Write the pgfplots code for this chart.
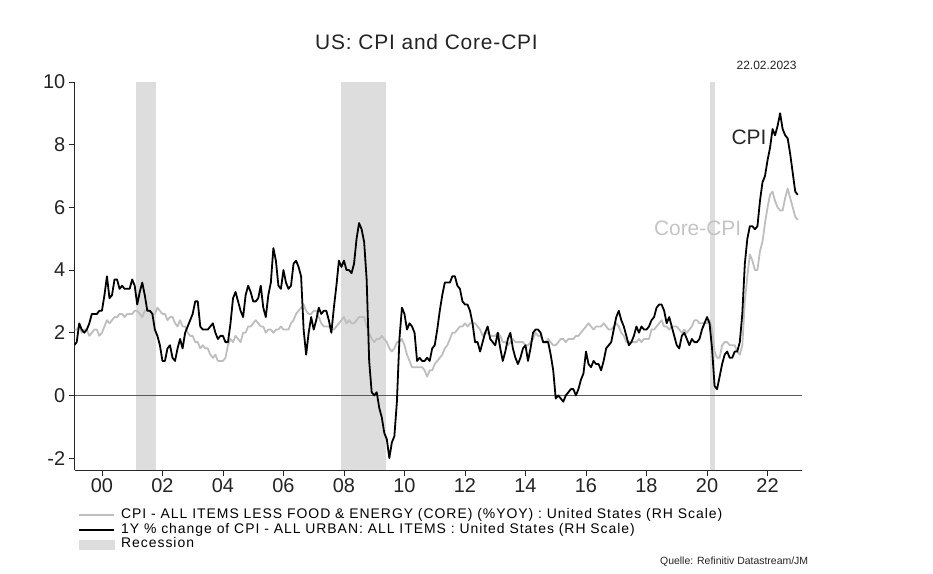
\documentclass[border=0pt]{standalone}
\usepackage{pgfplots}
\pgfplotsset{compat=1.18}
\usepackage{pgfplotstable}
\usepackage{fontspec}
\setmainfont{Liberation Sans}
\newfontfamily\legendfont[LetterSpace=7]{Liberation Sans}
\newfontfamily\titlefont[LetterSpace=4]{Liberation Sans}
\definecolor{coregray}{RGB}{190,190,190}
\definecolor{recgray}{RGB}{221,221,221}
\definecolor{labgray}{RGB}{196,196,196}
\definecolor{cpidark}{RGB}{40,40,40}
\definecolor{txt}{RGB}{35,35,35}

\pgfplotstableread{
yr mo cpi core
1999 2 1.6 2.1
1999 3 1.7 2.1
1999 4 2.3 2.2
1999 5 2.1 2.0
1999 6 2.0 2.1
1999 7 2.1 2.1
1999 8 2.3 1.9
1999 9 2.6 2.0
1999 10 2.6 2.1
1999 11 2.6 2.1
1999 12 2.7 1.9
2000 1 2.7 2.0
2000 2 3.2 2.2
2000 3 3.8 2.4
2000 4 3.1 2.3
2000 5 3.2 2.4
2000 6 3.7 2.5
2000 7 3.7 2.5
2000 8 3.4 2.6
2000 9 3.5 2.6
2000 10 3.4 2.5
2000 11 3.4 2.6
2000 12 3.4 2.6
2001 1 3.7 2.6
2001 2 3.5 2.7
2001 3 2.9 2.7
2001 4 3.3 2.6
2001 5 3.6 2.5
2001 6 3.2 2.7
2001 7 2.7 2.7
2001 8 2.7 2.7
2001 9 2.6 2.6
2001 10 2.1 2.6
2001 11 1.9 2.8
2001 12 1.6 2.7
2002 1 1.1 2.6
2002 2 1.1 2.6
2002 3 1.5 2.4
2002 4 1.6 2.5
2002 5 1.2 2.5
2002 6 1.1 2.3
2002 7 1.5 2.2
2002 8 1.8 2.4
2002 9 1.5 2.2
2002 10 2.0 2.2
2002 11 2.2 2.0
2002 12 2.4 1.9
2003 1 2.6 1.9
2003 2 3.0 1.7
2003 3 3.0 1.7
2003 4 2.2 1.5
2003 5 2.1 1.6
2003 6 2.1 1.5
2003 7 2.1 1.5
2003 8 2.2 1.3
2003 9 2.3 1.2
2003 10 2.0 1.3
2003 11 1.8 1.1
2003 12 1.9 1.1
2004 1 1.9 1.1
2004 2 1.7 1.2
2004 3 1.7 1.6
2004 4 2.3 1.8
2004 5 3.1 1.7
2004 6 3.3 1.9
2004 7 3.0 1.8
2004 8 2.7 1.7
2004 9 2.5 2.0
2004 10 3.2 2.0
2004 11 3.5 2.2
2004 12 3.3 2.2
2005 1 3.0 2.3
2005 2 3.0 2.4
2005 3 3.1 2.3
2005 4 3.5 2.2
2005 5 2.8 2.2
2005 6 2.5 2.0
2005 7 3.2 2.1
2005 8 3.6 2.1
2005 9 4.7 2.0
2005 10 4.3 2.1
2005 11 3.5 2.1
2005 12 3.4 2.2
2006 1 4.0 2.1
2006 2 3.6 2.1
2006 3 3.4 2.1
2006 4 3.5 2.3
2006 5 4.2 2.4
2006 6 4.3 2.6
2006 7 4.1 2.7
2006 8 3.8 2.8
2006 9 2.1 2.9
2006 10 1.3 2.7
2006 11 2.0 2.6
2006 12 2.5 2.6
2007 1 2.1 2.7
2007 2 2.4 2.7
2007 3 2.8 2.5
2007 4 2.6 2.3
2007 5 2.7 2.2
2007 6 2.7 2.2
2007 7 2.4 2.2
2007 8 2.0 2.1
2007 9 2.8 2.1
2007 10 3.5 2.2
2007 11 4.3 2.3
2007 12 4.1 2.4
2008 1 4.3 2.5
2008 2 4.0 2.3
2008 3 4.0 2.4
2008 4 3.9 2.3
2008 5 4.2 2.3
2008 6 5.0 2.4
2008 7 5.5 2.5
2008 8 5.3 2.5
2008 9 4.9 2.5
2008 10 3.7 2.2
2008 11 1.1 2.0
2008 12 0.1 1.8
2009 1 0.0 1.7
2009 2 0.1 1.8
2009 3 -0.4 1.8
2009 4 -0.7 1.9
2009 5 -1.2 1.8
2009 6 -1.4 1.7
2009 7 -2.0 1.5
2009 8 -1.5 1.4
2009 9 -1.3 1.5
2009 10 -0.2 1.7
2009 11 1.8 1.7
2009 12 2.8 1.8
2010 1 2.6 1.6
2010 2 2.1 1.3
2010 3 2.3 1.1
2010 4 2.2 0.9
2010 5 2.0 0.9
2010 6 1.1 0.9
2010 7 1.2 0.9
2010 8 1.1 0.9
2010 9 1.1 0.8
2010 10 1.2 0.6
2010 11 1.1 0.8
2010 12 1.5 0.8
2011 1 1.6 1.0
2011 2 2.1 1.1
2011 3 2.7 1.2
2011 4 3.2 1.3
2011 5 3.6 1.5
2011 6 3.6 1.6
2011 7 3.6 1.8
2011 8 3.8 2.0
2011 9 3.8 2.0
2011 10 3.5 2.1
2011 11 3.4 2.2
2011 12 3.0 2.2
2012 1 2.9 2.3
2012 2 2.9 2.2
2012 3 2.7 2.3
2012 4 2.3 2.3
2012 5 1.7 2.3
2012 6 1.7 2.2
2012 7 1.4 2.1
2012 8 1.7 1.9
2012 9 2.0 2.0
2012 10 2.2 2.0
2012 11 1.8 1.9
2012 12 1.7 1.9
2013 1 1.6 1.9
2013 2 2.0 2.0
2013 3 1.5 1.9
2013 4 1.1 1.7
2013 5 1.4 1.7
2013 6 1.8 1.6
2013 7 2.0 1.7
2013 8 1.5 1.8
2013 9 1.2 1.7
2013 10 1.0 1.7
2013 11 1.2 1.7
2013 12 1.5 1.7
2014 1 1.6 1.6
2014 2 1.1 1.6
2014 3 1.5 1.7
2014 4 2.0 1.8
2014 5 2.1 2.0
2014 6 2.1 1.9
2014 7 2.0 1.9
2014 8 1.7 1.7
2014 9 1.7 1.7
2014 10 1.7 1.8
2014 11 1.3 1.7
2014 12 0.8 1.6
2015 1 -0.1 1.6
2015 2 0.0 1.7
2015 3 -0.1 1.8
2015 4 -0.2 1.8
2015 5 0.0 1.7
2015 6 0.1 1.8
2015 7 0.2 1.8
2015 8 0.2 1.8
2015 9 0.0 1.9
2015 10 0.2 1.9
2015 11 0.5 2.0
2015 12 0.7 2.1
2016 1 1.4 2.2
2016 2 1.0 2.3
2016 3 0.9 2.2
2016 4 1.1 2.1
2016 5 1.0 2.2
2016 6 1.0 2.2
2016 7 0.8 2.2
2016 8 1.1 2.3
2016 9 1.5 2.2
2016 10 1.6 2.1
2016 11 1.7 2.1
2016 12 2.1 2.2
2017 1 2.5 2.3
2017 2 2.7 2.2
2017 3 2.4 2.0
2017 4 2.2 1.9
2017 5 1.9 1.7
2017 6 1.6 1.7
2017 7 1.7 1.7
2017 8 1.9 1.7
2017 9 2.2 1.7
2017 10 2.0 1.8
2017 11 2.2 1.7
2017 12 2.1 1.8
2018 1 2.1 1.8
2018 2 2.2 1.8
2018 3 2.4 2.1
2018 4 2.5 2.1
2018 5 2.8 2.2
2018 6 2.9 2.3
2018 7 2.9 2.4
2018 8 2.7 2.2
2018 9 2.3 2.2
2018 10 2.5 2.1
2018 11 2.2 2.2
2018 12 1.9 2.2
2019 1 1.6 2.2
2019 2 1.5 2.1
2019 3 1.9 2.0
2019 4 2.0 2.1
2019 5 1.8 2.0
2019 6 1.6 2.1
2019 7 1.8 2.2
2019 8 1.7 2.4
2019 9 1.7 2.4
2019 10 1.8 2.3
2019 11 2.1 2.3
2019 12 2.3 2.3
2020 1 2.5 2.3
2020 2 2.3 2.4
2020 3 1.5 2.1
2020 4 0.3 1.4
2020 5 0.2 1.2
2020 6 0.6 1.2
2020 7 1.0 1.6
2020 8 1.3 1.7
2020 9 1.4 1.7
2020 10 1.2 1.6
2020 11 1.2 1.6
2020 12 1.4 1.6
2021 1 1.4 1.4
2021 2 1.7 1.3
2021 3 2.6 1.6
2021 4 4.2 3.0
2021 5 5.0 3.8
2021 6 5.4 4.5
2021 7 5.4 4.3
2021 8 5.3 4.0
2021 9 5.4 4.0
2021 10 6.2 4.6
2021 11 6.8 4.9
2021 12 7.0 5.5
2022 1 7.5 6.0
2022 2 7.9 6.4
2022 3 8.5 6.5
2022 4 8.3 6.2
2022 5 8.6 6.0
2022 6 9.0 5.9
2022 7 8.5 5.9
2022 8 8.3 6.3
2022 9 8.2 6.6
2022 10 7.7 6.3
2022 11 7.1 6.0
2022 12 6.5 5.7
2023 1 6.4 5.6
}\cpidata

\begin{document}
\begin{tikzpicture}
\path[use as bounding box] (0bp,0bp) rectangle (933bp,574bp);
\node[font=\titlefont\fontsize{21}{21}\selectfont, text=txt] at (426.5bp,532bp) {US: CPI and Core-CPI};
\node[font=\fontsize{12}{12}\selectfont, text=txt, anchor=east] at (800bp,509bp) {22.02.2023};
\node[font=\fontsize{10.5}{10.5}\selectfont, text=txt, anchor=east] at (811.7bp,12.3bp) {Quelle: Refinitiv Datastream/JM};
\begin{axis}[
  at={(74.7bp,104bp)}, anchor=south west,
  width=727.3bp, height=388bp, scale only axis,
  xmin=1999.1, xmax=2023.14, ymin=-2.38, ymax=10,
  axis x line*=bottom, axis y line*=left,
  axis line style={-, black!85, line width=0.8bp},
  xtick={2000,2002,...,2022},
  xticklabels={00,02,04,06,08,10,12,14,16,18,20,22},
  minor x tick num=7,
  ytick={-2,0,...,10},
  tick align=outside,
  major tick length=6bp, minor tick length=3.5bp,
  tick style={black!85, line width=0.8bp},
  ticklabel style={font=\fontsize{20}{20}\selectfont, text=txt},
  xticklabel style={yshift=1bp},
  /pgf/number format/assume math mode=true,
  legend cell align=left,
  legend style={at={(axis description cs:0.005,-0.098)}, anchor=north west,
    draw=none, fill=none, inner sep=0pt, outer sep=0pt, row sep=0pt,
    font=\legendfont\fontsize{14}{14}\selectfont,
    nodes={inner sep=0pt, text height=10.5bp, text depth=4bp},
    /tikz/every odd column/.append style={column sep=6bp}},
]
\addplot[fill=recgray, draw=none, forget plot] coordinates {(2001.13,-2.38) (2001.13,10) (2001.80,10) (2001.80,-2.38)} -- cycle;
\addplot[fill=recgray, draw=none, forget plot] coordinates {(2007.89,-2.38) (2007.89,10) (2009.39,10) (2009.39,-2.38)} -- cycle;
\addplot[fill=recgray, draw=none, forget plot] coordinates {(2020.10,-2.38) (2020.10,10) (2020.26,10) (2020.26,-2.38)} -- cycle;
\addplot[black!65, line width=0.8bp, forget plot] coordinates {(1999.1,0) (2023.14,0)};
\addplot[coregray, line width=1.8bp, line join=round, forget plot] table[x expr=\thisrow{yr}+(\thisrow{mo}-1)/12, y=core] {\cpidata};
\addplot[black, line width=1.8bp, line join=round, forget plot] table[x expr=\thisrow{yr}+(\thisrow{mo}-1)/12, y=cpi] {\cpidata};
\node[font=\fontsize{21}{21}\selectfont, text=cpidark] at (axis cs:2021.39,8.25) {CPI};
\node[font=\fontsize{21}{21}\selectfont, text=labgray] at (axis cs:2019.69,5.33) {Core-CPI};
\addlegendimage{legend image code/.code={\draw[coregray, line width=1.8bp] (0bp,0bp) -- (35bp,0bp);}}
\addlegendentry{CPI - ALL ITEMS LESS FOOD \& ENERGY (CORE) (\%YOY) : United States (RH Scale)}
\addlegendimage{legend image code/.code={\draw[black, line width=1.8bp] (0bp,0bp) -- (35bp,0bp);}}
\addlegendentry{1Y \% change of CPI - ALL URBAN: ALL ITEMS : United States (RH Scale)}
\addlegendimage{legend image code/.code={\fill[recgray] (0bp,-4.5bp) rectangle (35bp,4.5bp);}}
\addlegendentry{Recession}
\end{axis}
\end{tikzpicture}
\end{document}
